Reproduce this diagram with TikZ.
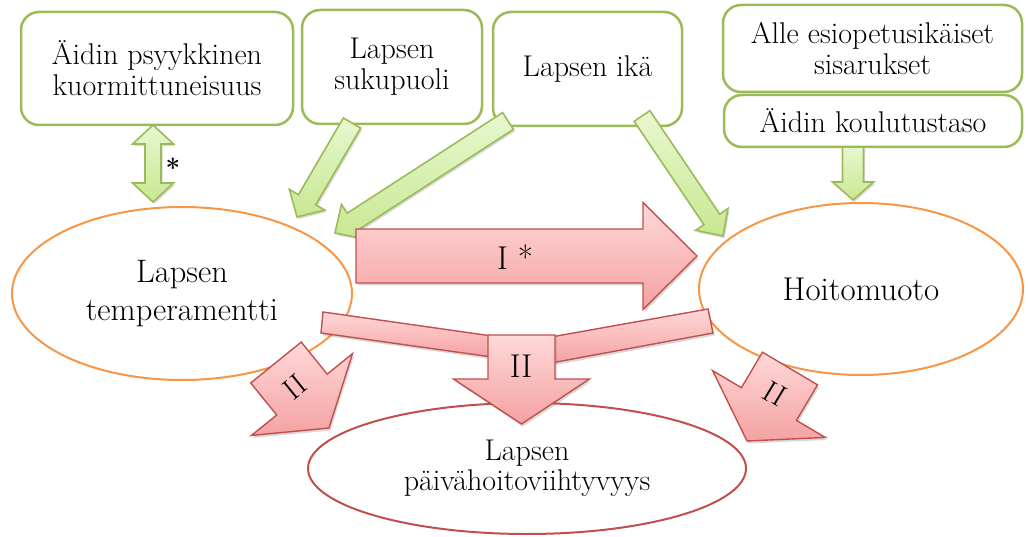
\documentclass[tikz,border=0pt]{standalone}
\usepackage{fontspec}
\usetikzlibrary{shapes.geometric,calc,shadows}
\definecolor{gborder}{HTML}{9BBB59}
\definecolor{oborder}{HTML}{F79646}
\definecolor{rborder}{HTML}{C0504D}
\definecolor{gtop}{HTML}{E8F7CF}
\definecolor{gbot}{HTML}{C8E892}
\definecolor{rtop}{HTML}{FFD8D8}
\definecolor{rbot}{HTML}{F4A2A2}
\newcommand\boxfont{\fontsize{30}{31}\selectfont}
\newcommand\ellfont{\fontsize{32.5}{38}\selectfont}
\newcommand\hoifont{\fontsize{33}{36}\selectfont}
\newcommand\botfont{\fontsize{30}{30}\selectfont}
\newcommand\lblfont{\fontsize{33}{34}\selectfont}
\newcommand\smlfont{\fontsize{30}{30}\selectfont}
% #1 style, #2 tail, #3 tip, #4 shaft half width, #5 head half width, #6 head length
\newcommand\myblockarrow[6]{%
  \coordinate (tmpc) at ($(#3)!#6!(#2)$);
  \path[#1] ($(#2)!#4!90:(#3)$) -- ($(tmpc)!#4!-90:(#2)$) -- ($(tmpc)!#5!-90:(#2)$) -- (#3)
    -- ($(tmpc)!#5!90:(#2)$) -- ($(tmpc)!#4!90:(#2)$) -- ($(#2)!#4!-90:(#3)$) -- cycle;}
\tikzset{
  gbox/.style={draw=gborder, line width=2.5pt, rounded corners=18pt, fill=white,
    align=center, font=\boxfont, inner sep=0pt},
  oell/.style={ellipse, draw=oborder, line width=2pt, fill=white, align=center, inner sep=0pt},
  rell/.style={ellipse, draw=rborder, line width=2pt, fill=white, align=center, inner sep=0pt},
  garrow/.style={draw=gborder, line width=1.6pt, top color=gtop, bottom color=gbot, line join=miter,
    drop shadow={shadow xshift=1.5pt, shadow yshift=-2pt, opacity=0.25, fill=black!60}},
  rarrow/.style={draw=rborder, line width=1.4pt, top color=rtop, bottom color=rbot, line join=miter,
    drop shadow={shadow xshift=1.5pt, shadow yshift=-2.5pt, opacity=0.25, fill=black!60}},
}
\begin{document}
\begin{tikzpicture}[x=1pt, y=-1pt]
\useasboundingbox (0,0) rectangle (1028,537);
% boxes
\node[gbox, minimum width=272pt, minimum height=113pt] (b1) at (157,68.5) {Äidin psyykkinen\\kuormittuneisuus};
\node[gbox, minimum width=180pt, minimum height=114pt] (b2) at (392,67) {Lapsen\\sukupuoli};
\node[gbox, minimum width=189pt, minimum height=114pt] (b3) at (587.5,69) {Lapsen ikä};
\node[gbox, minimum width=299pt, minimum height=87pt] (b4) at (872.5,48.5) {Alle esiopetusikäiset\\sisarukset};
\node[gbox, minimum width=298pt, minimum height=52pt] (b5) at (873,121) {Äidin koulutustaso};
% ellipses
\node[oell, minimum width=340pt, minimum height=173pt, font=\ellfont] (e1) at (182,293.5) {Lapsen\\temperamentti};
\node[oell, minimum width=324pt, minimum height=172pt, font=\hoifont] (e2) at (861,289) {Hoitomuoto};
\node[rell, minimum width=438pt, minimum height=131pt, font=\botfont] (e3) at (527,468.5) {Lapsen\\päivähoitoviihtyvyys};
% green arrows
\coordinate (dt) at (153,125);
\coordinate (db) at (153,202);
\path[garrow] (dt) -- ($(dt)+(20.5,19)$) -- ($(dt)+(8,19)$) -- ($(db)+(8,-19)$) -- ($(db)+(20.5,-19)$)
  -- (db) -- ($(db)+(-20.5,-19)$) -- ($(db)+(-8,-19)$) -- ($(dt)+(-8,19)$) -- ($(dt)+(-20.5,19)$) -- cycle;
\node[font=\bfseries\fontsize{26}{26}\selectfont, inner sep=0pt] (star) at (173,168) {*};
\coordinate (g2a) at (352,123);
\coordinate (g2b) at (297,217);
\myblockarrow{garrow}{g2a}{g2b}{10pt}{20.5pt}{20pt}
\coordinate (g3a) at (508,121);
\coordinate (g3b) at (335,233);
\myblockarrow{garrow}{g3a}{g3b}{10pt}{20.5pt}{21pt}
\coordinate (g4a) at (642,116);
\coordinate (g4b) at (723,236);
\myblockarrow{garrow}{g4a}{g4b}{9.5pt}{19.5pt}{20pt}
\coordinate (g5a) at (853,147);
\coordinate (g5b) at (853,200);
\myblockarrow{garrow}{g5a}{g5b}{10.5pt}{20.5pt}{18pt}
% red arrows
\coordinate (r1a) at (356,256);
\coordinate (r1b) at (697,256);
\myblockarrow{rarrow}{r1a}{r1b}{27pt}{53.5pt}{54pt}
\node[font=\lblfont, inner sep=0pt] (lI) at (515,257) {I *};
% composite arrow to e3
\path[rarrow] (323,312) -- (492,336) -- (492,357) -- (321,333) -- cycle;
\path[rarrow] (708,309) -- (713,333) -- (551,363) -- (551,337) -- cycle;
\coordinate (mTop) at (521.5,335);
\coordinate (mTip) at (521.5,424);
\myblockarrow{rarrow}{mTop}{mTip}{33.5pt}{68pt}{45pt}
\node[font=\lblfont, inner sep=0pt] (lII) at (521,366) {II};
% side arrows
\coordinate (r3a) at (276,362.5);
\coordinate (r3b) at (329,428);
\myblockarrow{rarrow}{r3a}{r3b}{32.5pt}{65pt}{43pt}
\node[font=\smlfont, inner sep=0pt, rotate=39] (lL) at (295,387) {II};
\coordinate (r4a) at (790,368.5);
\coordinate (r4b) at (747,441);
\myblockarrow{rarrow}{r4a}{r4b}{32pt}{65.5pt}{43pt}
\node[font=\smlfont, inner sep=0pt, rotate=-31] (lR) at (775,394) {II};
\end{tikzpicture}
\end{document}
